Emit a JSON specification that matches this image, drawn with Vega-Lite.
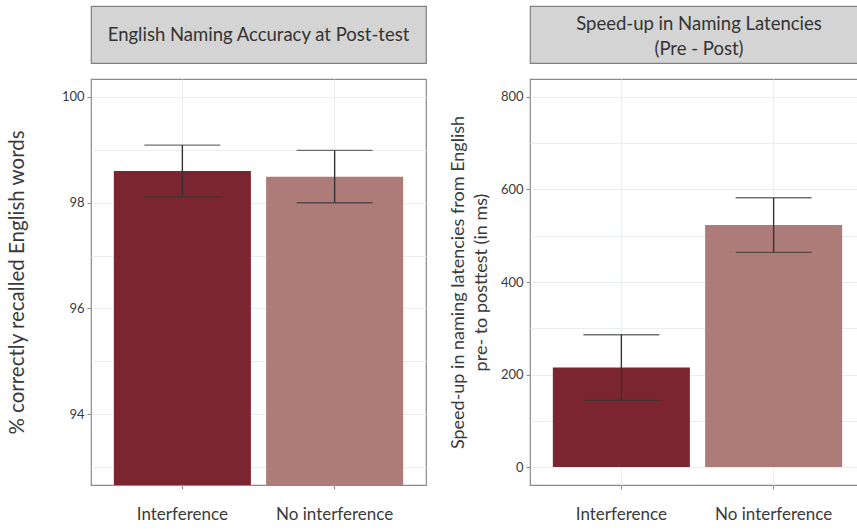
{
  "$schema": "https://vega.github.io/schema/vega-lite/v6.json",
  "background": "white",
  "padding": {"left": 6, "top": 5, "right": 0, "bottom": 0},
  "config": {
    "font": "Lato",
    "axis": {
      "labelFont": "Lato",
      "titleFont": "Lato",
      "labelColor": "#3a3a3a",
      "titleColor": "#3a3a3a",
      "titleFontWeight": "normal",
      "domain": false,
      "gridColor": "#EBEEF0",
      "gridWidth": 1.1,
      "tickColor": "#8c8c8c",
      "tickSize": 4,
      "tickWidth": 1.1
    },
    "concat": {"spacing": 21}
  },
  "datasets": {
    "accuracy": [
      {"condition": "Interference", "mean": 98.6, "lower": 98.11, "upper": 99.09},
      {"condition": "No interference", "mean": 98.49, "lower": 98.0, "upper": 98.99}
    ],
    "speedup": [
      {"condition": "Interference", "mean": 215, "lower": 144, "upper": 286},
      {"condition": "No interference", "mean": 523, "lower": 464, "upper": 582}
    ]
  },
  "hconcat": [
    {
      "spacing": 14,
      "vconcat": [
        {
          "width": 335,
          "height": 57,
          "view": {"fill": "#D4D4D4", "stroke": "#808080", "strokeWidth": 1.2},
          "data": {"values": [{"strip": "English Naming Accuracy at Post-test"}]},
          "mark": {"type": "text", "font": "Lato", "fontSize": 18.5, "color": "#333333", "align": "center", "baseline": "middle"},
          "encoding": {"text": {"field": "strip", "type": "nominal"}}
        },
        {
          "width": 335,
          "height": 406,
          "view": {"stroke": "#8a8a8a", "strokeWidth": 1.2},
          "data": {"name": "accuracy"},
          "encoding": {
            "x": {
              "field": "condition",
              "type": "nominal",
              "sort": ["Interference", "No interference"],
              "scale": {"paddingInner": 0.1, "paddingOuter": 0.15},
              "axis": {
                "title": null,
                "labelAngle": 0,
                "labelFontSize": 17,
                "labelPadding": 17,
                "grid": true,
                "bandPosition": 0.5,
                "tickSize": 4
              }
            }
          },
          "layer": [
            {
              "mark": {"type": "bar", "clip": true},
              "encoding": {
                "y": {
                  "field": "mean",
                  "type": "quantitative",
                  "scale": {"domain": [92.66, 100.34], "nice": false, "zero": false},
                  "axis": {
                    "title": "% correctly recalled English words",
                    "titleFontSize": 20.5,
                    "titlePadding": 34,
                    "labelFontSize": 13,
                    "labelPadding": 3,
                    "format": "d",
                    "values": [93, 94, 95, 96, 97, 98, 99, 100],
                    "labelExpr": "datum.value % 2 == 0 ? datum.label : ''",
                    "tickOpacity": {"condition": {"test": "datum.value % 2 != 0", "value": 0}, "value": 1}
                  }
                },
                "color": {
                  "field": "condition",
                  "type": "nominal",
                  "scale": {"domain": ["Interference", "No interference"], "range": ["#7A2530", "#AD7C78"]},
                  "legend": null
                }
              }
            },
            {
              "mark": {"type": "rule", "color": "#333333", "strokeWidth": 1.4},
              "encoding": {
                "y": {"field": "lower", "type": "quantitative"},
                "y2": {"field": "upper"}
              }
            },
            {
              "mark": {"type": "tick", "color": "#333333", "thickness": 1.4, "size": 76},
              "encoding": {"y": {"field": "lower", "type": "quantitative"}}
            },
            {
              "mark": {"type": "tick", "color": "#333333", "thickness": 1.4, "size": 76},
              "encoding": {"y": {"field": "upper", "type": "quantitative"}}
            }
          ]
        }
      ]
    },
    {
      "spacing": 14,
      "vconcat": [
        {
          "width": 338,
          "height": 57,
          "view": {"fill": "#D4D4D4", "stroke": "#808080", "strokeWidth": 1.2},
          "data": {"values": [{"strip": "Speed-up in Naming Latencies\n(Pre - Post)"}]},
          "mark": {"type": "text", "font": "Lato", "fontSize": 18.5, "color": "#333333", "align": "center", "baseline": "middle", "lineBreak": "\n", "lineHeight": 25, "dy": -11},
          "encoding": {"text": {"field": "strip", "type": "nominal"}}
        },
        {
          "width": 335,
          "height": 406,
          "view": {"stroke": "#8a8a8a", "strokeWidth": 1.2},
          "data": {"name": "speedup"},
          "encoding": {
            "x": {
              "field": "condition",
              "type": "nominal",
              "sort": ["Interference", "No interference"],
              "scale": {"paddingInner": 0.1, "paddingOuter": 0.15},
              "axis": {
                "title": null,
                "labelAngle": 0,
                "labelFontSize": 17,
                "labelPadding": 17,
                "grid": true,
                "bandPosition": 0.5,
                "tickSize": 4
              }
            }
          },
          "layer": [
            {
              "mark": {"type": "bar", "clip": true},
              "encoding": {
                "y": {
                  "field": "mean",
                  "type": "quantitative",
                  "scale": {"domain": [-38.9, 838.9], "nice": false, "zero": false},
                  "axis": {
                    "title": ["Speed-up in naming latencies from English", "pre- to posttest (in ms)"],
                    "titleFontSize": 18,
                    "titleLineHeight": 23,
                    "titlePadding": 10,
                    "labelFontSize": 13,
                    "labelPadding": 3,
                    "format": "d",
                    "values": [0, 100, 200, 300, 400, 500, 600, 700, 800],
                    "labelExpr": "datum.value % 200 == 0 ? datum.label : ''",
                    "tickOpacity": {"condition": {"test": "datum.value % 200 != 0", "value": 0}, "value": 1}
                  }
                },
                "y2": {"datum": 0},
                "color": {
                  "field": "condition",
                  "type": "nominal",
                  "scale": {"domain": ["Interference", "No interference"], "range": ["#7A2530", "#AD7C78"]},
                  "legend": null
                }
              }
            },
            {
              "mark": {"type": "rule", "color": "#333333", "strokeWidth": 1.4},
              "encoding": {
                "y": {"field": "lower", "type": "quantitative"},
                "y2": {"field": "upper"}
              }
            },
            {
              "mark": {"type": "tick", "color": "#333333", "thickness": 1.4, "size": 76},
              "encoding": {"y": {"field": "lower", "type": "quantitative"}}
            },
            {
              "mark": {"type": "tick", "color": "#333333", "thickness": 1.4, "size": 76},
              "encoding": {"y": {"field": "upper", "type": "quantitative"}}
            }
          ]
        }
      ]
    }
  ]
}
